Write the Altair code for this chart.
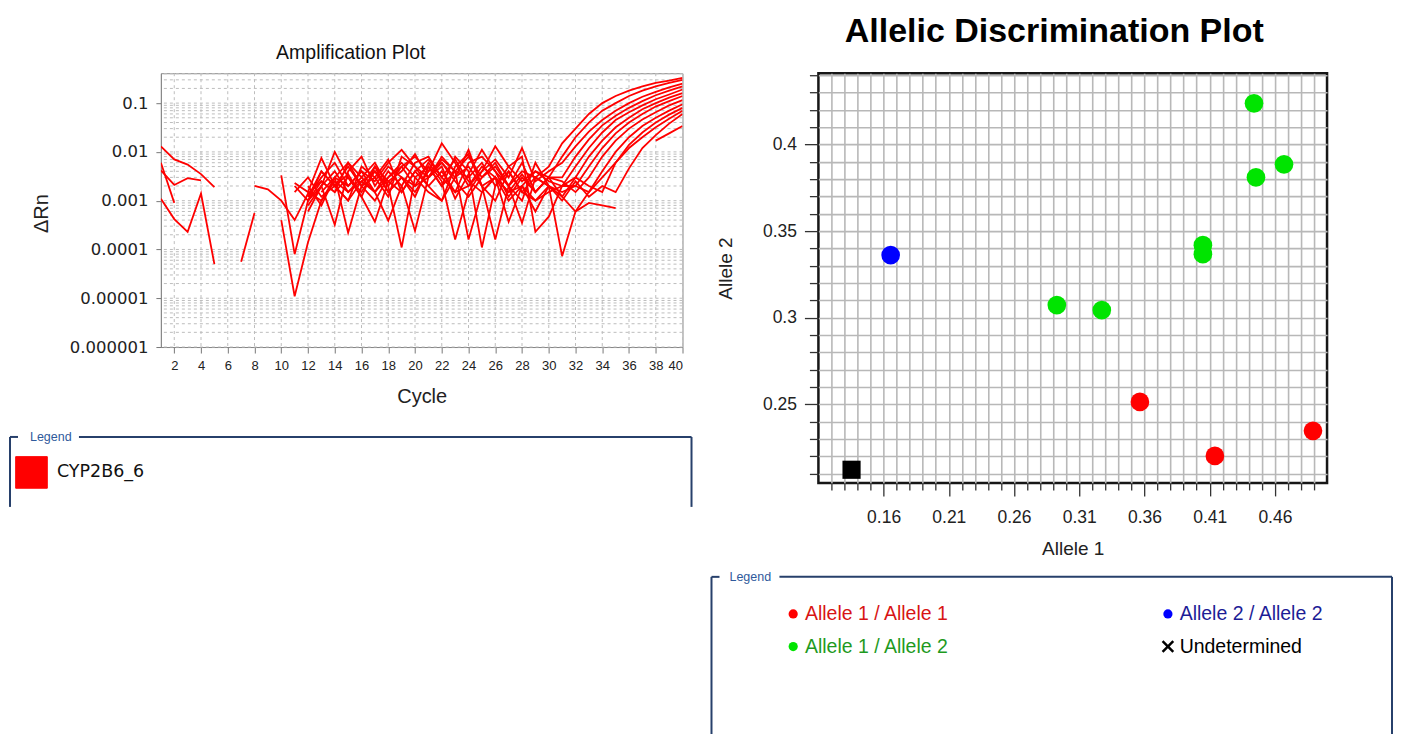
import altair as alt
import pandas as pd

N = None
TARGET = "CYP2B6_6"
CYCLES = list(range(1, 41))

# Delta Rn per cycle for each well (None = not plotted on log axis)
W01 = [1.3e-2, 7e-3, 5.5e-3, 3.5e-3, 1.9e-3, N, N, N, N, N, N, 1.2e-3, 3e-3, 6e-3, 2e-3, 4e-3, 2.5e-3, 6e-3, 1.1e-2, 5e-3,
       3e-3, 7e-3, 4e-3, 8e-3, 3e-3, 5e-3, 2e-3, 4e-3, 3e-3, 5e-3, 1.5e-2, 3e-2, 6e-2, 1e-1, 1.4e-1, 1.8e-1, 2.2e-1, 2.6e-1, 2.9e-1, 3.3e-1]
W02 = [4.2e-3, 2.1e-3, 2.9e-3, 2.6e-3, N, N, N, N, N, N, N, 8e-4, 2e-3, 1e-2, 3e-3, 1.5e-3, 4e-3, 2e-3, 5e-3, 8e-3,
       4e-3, 1.5e-2, 6e-3, 2e-3, 4e-3, 1.3e-2, 5e-3, 2.5e-3, 4e-3, 3e-3, 8e-3, 2e-2, 4e-2, 7e-2, 1e-1, 1.4e-1, 1.8e-1, 2.2e-1, 2.6e-1, 3e-1]
W03 = [1.1e-3, 4.2e-4, 2.3e-4, 1.4e-3, 5e-5, N, N, N, N, N, N, N, 1.5e-3, 3e-3, 2.2e-4, 2e-3, 5e-3, 1.5e-3, 3e-3, 2e-3,
       6e-3, 2.5e-3, 1.6e-4, 1.5e-3, 4e-3, 7e-3, 3e-3, 1.2e-2, 2.5e-3, 4e-3, 6e-3, 1.3e-2, 2.6e-2, 4.5e-2, 7e-2, 1e-1, 1.35e-1, 1.7e-1, 2.1e-1, 2.5e-1]
W04 = [6e-3, 9e-4, N, N, N, N, 5.6e-5, 5.6e-4, N, N, 2.3e-3, 1.5e-3, 7.5e-3, 2e-3, 3.5e-3, 1.2e-3, 3.7e-4, 2.5e-3, 4e-3, 9e-3,
       3e-3, 5e-3, 1.1e-3, 3.5e-3, 1.1e-2, 4e-3, 2e-3, 6e-3, 1.5e-3, 3e-3, 3e-3, 8e-3, 1.8e-2, 3.5e-2, 5.5e-2, 8e-2, 1.1e-1, 1.45e-1, 1.8e-1, 2.2e-1]
W05 = [N, N, N, N, N, N, N, 2e-3, 1.7e-3, 1e-3, 4e-4, 1.4e-3, 2.5e-3, 1.5e-3, 6e-3, 3e-3, 1.5e-3, 3.9e-4, 2e-3, 6e-3,
       8e-3, 3e-3, 7e-3, 2.5e-3, 1.5e-3, 3e-3, 3.7e-4, 2e-3, 4e-3, 2.5e-3, 2e-3, 5e-3, 1.2e-2, 2.5e-2, 4.5e-2, 6.5e-2, 9e-2, 1.2e-1, 1.5e-1, 1.9e-1]
W06 = [N, N, N, N, N, N, N, N, N, 3.3e-3, 8e-5, 1e-3, 2e-3, 3.2e-4, 4e-3, 8e-3, 2e-3, 5e-3, 3e-3, 1.5e-3,
       4e-3, 6e-3, 3e-3, 1.1e-2, 2e-3, 1.6e-4, 2e-3, 3.5e-4, 3e-3, 2e-3, 1.2e-3, 3e-3, 8e-3, 1.7e-2, 3.2e-2, 5e-2, 7.5e-2, 1e-1, 1.3e-1, 1.6e-1]
W07 = [N, N, N, N, N, N, N, N, N, 4e-4, 1.1e-5, 1.4e-4, 1e-3, 2.5e-3, 1.5e-3, 3e-3, 6e-3, 2e-3, 1.1e-4, 3e-3,
       5e-3, 2e-3, 8e-3, 4e-3, 1.1e-4, 2e-3, 5e-3, 8e-3, 2.3e-4, 4.7e-4, 2e-3, 2e-3, 5e-3, 1.2e-2, 2.4e-2, 4e-2, 6e-2, 8.5e-2, 1.1e-1, 1.4e-1]
W08 = [N, N, N, N, N, N, N, N, N, N, 1.5e-3, 3e-3, 1.2e-3, 2e-3, 5e-3, 2e-3, 3e-3, 1.2e-3, 8e-3, 5e-3,
       2e-3, 4e-3, 1.5e-3, 6e-3, 8e-3, 4e-3, 1.2e-3, 3e-3, 1.5e-3, 3e-3, 2.5e-3, 1.5e-3, 3e-3, 8e-3, 1.7e-2, 3e-2, 4.6e-2, 6.5e-2, 9e-2, 1.15e-1]
W09 = [N, N, N, N, N, N, N, N, N, N, N, 6e-4, 2e-3, 4e-3, 1.5e-3, 2.5e-3, 1.5e-3, 4e-3, 2e-3, 2.4e-4,
       3e-3, 6e-3, 2.5e-3, 1.2e-3, 3e-3, 6e-3, 2e-3, 1e-3, 6e-3, 2e-3, 1.5e-3, 2e-3, 1.5e-3, 4e-3, 1e-2, 2e-2, 3.4e-2, 5e-2, 7e-2, 9.5e-2]
W10 = [N, N, N, N, N, N, N, N, N, N, 2e-3, 1e-3, 4e-3, 2e-3, 1e-3, 5e-3, 3e-3, 7e-3, 1.5e-3, 4e-3,
       2e-3, 1e-3, 5e-3, 9e-3, 2e-3, 1e-3, 4e-3, 1.5e-3, 1e-3, 1.5e-3, 2e-3, 3e-3, 2e-3, 1.5e-3, 6e-3, 1.4e-2, 2.5e-2, 4e-2, 5.8e-2, 8e-2]
W11 = [N, N, N, N, N, N, N, N, N, N, N, 2e-3, 8e-4, 3e-3, 6e-3, 2e-3, 1e-3, 3e-3, 6e-3, 3e-3,
       1.5e-3, 1e-3, 3e-3, 5e-3, 2e-3, 3e-3, 1e-3, 2e-3, 6e-4, 2e-3, 1e-3, 2.5e-3, 1.2e-3, 2e-3, 1.5e-3, 4.6e-3, 1.2e-2, 2.2e-2, 3.8e-2, 6e-2]
W12 = [N, N, N, N, N, N, N, N, N, N, N, 1e-3, 2.5e-3, 1.5e-3, 3e-3, 1.2e-3, 5e-3, 2.5e-3, 1.5e-3, 4e-3,
       7e-3, 3e-3, 1.5e-3, 2e-3, 5e-3, 3e-3, 1.5e-3, 2e-3, 1e-3, 2e-3, N, N, N, N, N, N, N, 1.7e-2, 2.4e-2, 3.4e-2]
W13 = [N, N, N, N, N, N, N, N, N, N, N, 1.5e-3, 1e-3, 3e-3, 2e-3, 4e-3, 1.5e-3, 3e-3, 5e-3, 2e-3,
       3e-3, 8e-3, 4e-3, 1.6e-4, 1.5e-3, 3e-3, 1.5e-3, 3.5e-3, 1.5e-3, 3e-3, 1.2e-3, 6e-4, 9e-4, 8e-4, 7e-4, N, N, N, N, N]
W14 = [N, N, N, N, N, N, N, N, N, N, N, 1.2e-3, 4e-3, 2e-3, 1e-3, 2.5e-3, 4e-3, 1.5e-3, 3e-3, 1.2e-3,
       5e-3, 2e-3, 4e-3, 3e-3, 6e-3, 2e-3, 4e-3, 1.5e-3, 3e-3, 2e-3, 7.3e-5, 6e-4, 1.5e-3, 3e-3, 6e-3, 1.2e-2, 2e-2, 3.2e-2, 4.8e-2, 7e-2]
WELLS = {"W01": W01, "W02": W02, "W03": W03, "W04": W04, "W05": W05, "W06": W06, "W07": W07,
         "W08": W08, "W09": W09, "W10": W10, "W11": W11, "W12": W12, "W13": W13, "W14": W14}

AMP_X_TICKS = [2, 4, 6, 8, 10, 12, 14, 16, 18, 20, 22, 24, 26, 28, 30, 32, 34, 36, 38, 40]
AMP_Y_TICKS = [1e-6, 1e-5, 1e-4, 1e-3, 1e-2, 1e-1]
AMP_Y_GRID = [1e-6, 2e-6, 3e-6, 4e-6, 5e-6, 6e-6, 7e-6, 8e-6, 9e-6,
              1e-5, 2e-5, 3e-5, 4e-5, 5e-5, 6e-5, 7e-5, 8e-5, 9e-5,
              1e-4, 2e-4, 3e-4, 4e-4, 5e-4, 6e-4, 7e-4, 8e-4, 9e-4,
              1e-3, 2e-3, 3e-3, 4e-3, 5e-3, 6e-3, 7e-3, 8e-3, 9e-3,
              1e-2, 2e-2, 3e-2, 4e-2, 5e-2, 6e-2, 7e-2, 8e-2, 9e-2,
              1e-1, 2e-1, 3e-1, 4e-1]

# Allelic discrimination
ALLELE1 = [0.1354, 0.1654, 0.2928, 0.3273, 0.4048, 0.4048, 0.4440, 0.4455, 0.4670, 0.3565, 0.4140, 0.4892]
ALLELE2 = [0.2122, 0.3362, 0.3073, 0.3044, 0.3419, 0.3367, 0.4238, 0.3811, 0.3886, 0.2514, 0.2202, 0.2347]
CALLS = ["Undetermined", "Allele 2 / Allele 2",
         "Allele 1 / Allele 2", "Allele 1 / Allele 2", "Allele 1 / Allele 2", "Allele 1 / Allele 2",
         "Allele 1 / Allele 2", "Allele 1 / Allele 2", "Allele 1 / Allele 2",
         "Allele 1 / Allele 1", "Allele 1 / Allele 1", "Allele 1 / Allele 1"]
LEGEND_ORDER = ["Allele 1 / Allele 1", "Allele 1 / Allele 2", "Allele 2 / Allele 2", "Undetermined"]
POINT_COLORS = ["#ff0000", "#00e400", "#0000ff", "#000000"]
LABEL_COLORS = ["#d81414", "#1e9a1e", "#1c1c96", "#000000"]
X_MARK = ("M-1.35,-0.97L-0.97,-1.35L0,-0.38L0.97,-1.35L1.35,-0.97L0.38,0L1.35,0.97L0.97,1.35"
          "L0,0.38L-0.97,1.35L-1.35,0.97L-0.38,0Z")
SHAPES = ["circle", "circle", "circle", X_MARK]
AD_X_TICKS = [0.12, 0.13, 0.14, 0.15, 0.16, 0.17, 0.18, 0.19, 0.20, 0.21, 0.22, 0.23, 0.24, 0.25, 0.26,
              0.27, 0.28, 0.29, 0.30, 0.31, 0.32, 0.33, 0.34, 0.35, 0.36, 0.37, 0.38, 0.39, 0.40, 0.41,
              0.42, 0.43, 0.44, 0.45, 0.46, 0.47, 0.48, 0.49]
AD_X_LABELED = ["0.16", "0.21", "0.26", "0.31", "0.36", "0.41", "0.46"]
AD_Y_TICKS = [0.21, 0.22, 0.23, 0.24, 0.25, 0.26, 0.27, 0.28, 0.29, 0.30, 0.31, 0.32, 0.33, 0.34, 0.35,
              0.36, 0.37, 0.38, 0.39, 0.40, 0.41, 0.42, 0.43, 0.44]
AD_Y_LABELED = ["0.25", "0.30", "0.35", "0.40"]

# ---------- data frames ----------
rows = []
for name, vals in WELLS.items():
    seg = 0
    gap = True
    for c, v in zip(CYCLES, vals):
        if v is None:
            gap = True
            continue
        if gap:
            seg += 1
            gap = False
        rows.append({"cycle": c, "drn": v, "well": name, "run": f"{name}-{seg}", "target": TARGET})
amp = pd.DataFrame(rows)
geno = pd.DataFrame({"allele1": ALLELE1, "allele2": ALLELE2, "call": CALLS})

SANS = "Liberation Sans"
NARROW = "Liberation Sans Narrow, Liberation Sans"
NAVY = "#27406b"
one = alt.Data(values=[{"k": 0}])


def hrule(x, x2, y, color=NAVY, w=2):
    return alt.Chart(one).mark_rule(color=color, strokeWidth=w).encode(
        x=alt.value(x), x2=alt.value(x2), y=alt.value(y))


def vrule(x, y, y2, color=NAVY, w=2):
    return alt.Chart(one).mark_rule(color=color, strokeWidth=w).encode(
        x=alt.value(x), y=alt.value(y), y2=alt.value(y2))


def legend_word(x, y):
    return alt.Chart(one).mark_text(text="Legend", font=NARROW, fontSize=12.5,
                                    color="#2f5a9c", align="left", baseline="middle").encode(
        x=alt.value(x), y=alt.value(y))


# ---------- amplification plot ----------
x_amp_scale = alt.Scale(domain=[1, 40], nice=False, zero=False)
y_amp_scale = alt.Scale(type="log", domain=[1e-6, 0.41], nice=False)
x_amp_axis = alt.Axis(values=AMP_X_TICKS, title="Cycle", grid=False, tickSize=6, tickColor="#777",
                      domainColor="#888", labelFont=NARROW, labelFontSize=13, labelColor="#222",
                      labelPadding=6, labelOverlap=False,
                      titleFont=SANS, titleFontSize=20, titleFontWeight="normal", titleColor="#222",
                      titleY=50, titleBaseline="middle")
y_amp_axis = alt.Axis(values=AMP_Y_TICKS, format=".6~f", title="ΔRn", grid=False, tickSize=5,
                      tickColor="#777", domainColor="#888", labelFont="DejaVu Sans", labelFontSize=16.5,
                      labelColor="#222", labelPadding=8, labelOverlap=False,
                      titleFont=SANS, titleFontSize=20, titleFontWeight="normal", titleColor="#222",
                      titleX=-119, titleY=140, titleBaseline="middle")

grid_h = alt.Chart(pd.DataFrame({"drn": AMP_Y_GRID})).mark_rule(
    color="#bdbdbd", strokeDash=[3, 3], strokeWidth=1).encode(
    y=alt.Y("drn:Q", scale=y_amp_scale, axis=y_amp_axis))
grid_v = alt.Chart(pd.DataFrame({"cycle": AMP_X_TICKS})).mark_rule(
    color="#bdbdbd", strokeDash=[3, 3], strokeWidth=1).encode(
    x=alt.X("cycle:Q", scale=x_amp_scale, axis=x_amp_axis))

lines = alt.Chart(amp).mark_line(strokeWidth=1.8, clip=True).encode(
    x=alt.X("cycle:Q", scale=x_amp_scale, axis=x_amp_axis),
    y=alt.Y("drn:Q", scale=y_amp_scale, axis=y_amp_axis),
    color=alt.Color("target:N", scale=alt.Scale(domain=[TARGET], range=["#ff0000"]),
                    legend=alt.Legend(orient="none", legendX=-146, legendY=383, title=None, padding=0,
                                      symbolType="square", symbolSize=1000, symbolFillColor="#ff0000",
                                      symbolStrokeColor="#c80000", symbolStrokeWidth=1,
                                      labelFont="DejaVu Sans", labelFontSize=17.5, labelColor="#111",
                                      labelOffset=9)),
    detail="run:N",
)

amp_chart = alt.layer(
    grid_h, grid_v, lines,
    hrule(-151, -143, 364), legend_word(-131, 364), hrule(-82, 531, 364),
    vrule(-151, 364, 434), vrule(531, 364, 434),
).properties(
    width=522, height=274,
    view=alt.ViewBackground(stroke="#8a8a8a", strokeWidth=1),
    title=alt.Title("Amplification Plot", font=SANS, fontSize=19.5, fontWeight="normal", color="#111",
                    anchor="middle", frame="group", dx=-71, baseline="alphabetic", offset=-6),
)

# ---------- allelic discrimination plot ----------
xl = "[" + ",".join(f"'{v}'" for v in AD_X_LABELED) + "]"
yl = "[" + ",".join(f"'{v}'" for v in AD_Y_LABELED) + "]"
x_major = f"indexof({xl}, format(datum.value, '.2f')) >= 0"
y_major = f"indexof({yl}, format(datum.value, '.2f')) >= 0"

x_ad = alt.X("allele1:Q", scale=alt.Scale(domain=[0.11, 0.50], nice=False, zero=False),
             axis=alt.Axis(values=AD_X_TICKS, grid=True, gridColor="#b8b8b8", gridWidth=1.6, domain=False,
                           tickColor="#333", tickWidth=1.3,
                           tickSize={"condition": {"test": x_major, "value": 13}, "value": 7},
                           labelExpr=f"{x_major} ? format(datum.value, '.2f') : ''",
                           labelFont=SANS, labelFontSize=17.5, labelColor="#222", labelPadding=13,
                           labelOverlap=False, labelBound=False,
                           title="Allele 1", titleFont=SANS, titleFontSize=19, titleFontWeight="normal",
                           titleColor="#222", titleY=66, titleBaseline="middle"))
y_ad = alt.Y("allele2:Q", scale=alt.Scale(domain=[0.2046, 0.4412], nice=False, zero=False),
             axis=alt.Axis(values=AD_Y_TICKS, grid=True, gridColor="#b8b8b8", gridWidth=1.6, domain=False,
                           tickColor="#333", tickWidth=1.3,
                           tickSize={"condition": {"test": y_major, "value": 14}, "value": 9},
                           labelExpr=f"{y_major} ? format(datum.value, '.2~f') : ''",
                           labelFont=SANS, labelFontSize=17.5, labelColor="#222", labelPadding=8,
                           labelOverlap=False, labelBound=False,
                           title="Allele 2", titleFont=SANS, titleFontSize=19, titleFontWeight="normal",
                           titleColor="#222", titleX=-93, titleY=195, titleBaseline="middle"))

label_color_expr = " : ".join(
    f"datum.label == '{lab}' ? '{col}'" for lab, col in zip(LEGEND_ORDER[:-1], LABEL_COLORS[:-1])
) + f" : '{LABEL_COLORS[-1]}'"

ad_legend = alt.Legend(orient="none", legendX=-35, legendY=531, columns=2, columnPadding=209, rowPadding=12,
                       title=None, padding=0, symbolSize=85, symbolStrokeWidth=0, labelFont=SANS,
                       labelFontSize=19.5, labelOffset=2, labelLimit=400,
                       labelColor={"expr": label_color_expr})

called = alt.Chart(geno).transform_filter(alt.datum.call != "Undetermined").mark_point(
    filled=True, size=350, opacity=1).encode(
    x=x_ad, y=y_ad,
    color=alt.Color("call:N", scale=alt.Scale(domain=LEGEND_ORDER, range=POINT_COLORS), legend=ad_legend),
    shape=alt.Shape("call:N", scale=alt.Scale(domain=LEGEND_ORDER, range=SHAPES), legend=ad_legend),
)
undetermined = alt.Chart(geno).transform_filter(alt.datum.call == "Undetermined").mark_square(
    size=330, color="#000000", opacity=1).encode(x=x_ad, y=y_ad)

ad_chart = alt.layer(
    called, undetermined,
    hrule(-107, -99, 504), legend_word(-89, 504), hrule(-39, 574, 504),
    vrule(-107, 504, 668), vrule(574, 504, 668),
).properties(
    width=509, height=410,
    view=alt.ViewBackground(stroke="#161616", strokeWidth=2.5),
    title=alt.Title("Allelic Discrimination Plot", font=SANS, fontSize=34, fontWeight="bold", color="#000",
                    anchor="middle", frame="group", dx=-18.5, baseline="alphabetic", offset=-9.7),
)

chart = alt.hconcat(amp_chart, ad_chart, spacing=136, bounds="flush").resolve_scale(
    color="independent", shape="independent"
).resolve_legend(
    color="independent", shape="independent"
).properties(
    padding={"left": 0, "top": 5, "right": 0, "bottom": 0}, background="#ffffff"
).configure_view(stroke=None)

chart.save("out.html", embed_options={"renderer": "svg", "actions": False})
